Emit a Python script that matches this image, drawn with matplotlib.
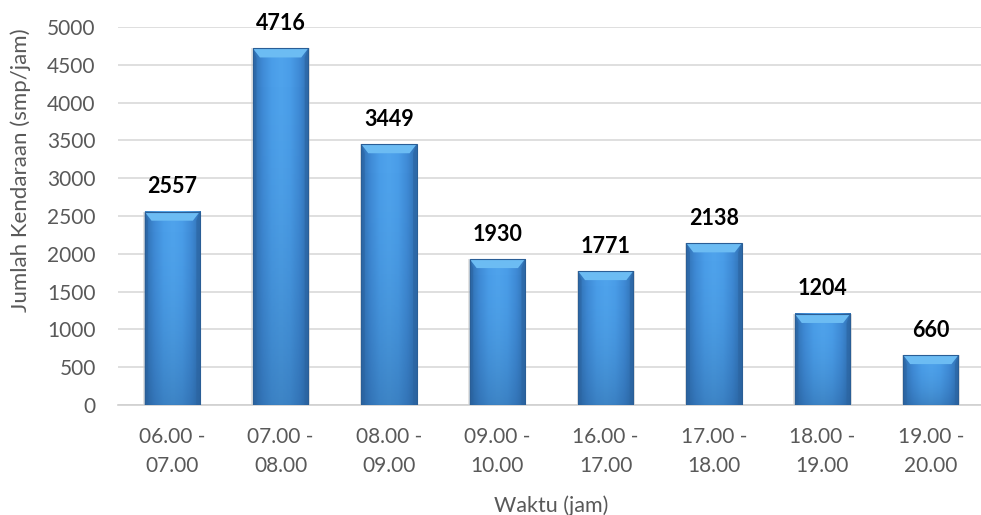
import matplotlib
matplotlib.use("Agg")
import matplotlib.pyplot as plt
import numpy as np
from matplotlib.patches import Polygon
from matplotlib.colors import LinearSegmentedColormap

categories = ["06.00 -\n07.00", "07.00 -\n08.00", "08.00 -\n09.00", "09.00 -\n10.00",
              "16.00 -\n17.00", "17.00 -\n18.00", "18.00 -\n19.00", "19.00 -\n20.00"]
values = [2557, 4716, 3449, 1930, 1771, 2138, 1204, 660]
yticks = [0, 500, 1000, 1500, 2000, 2500, 3000, 3500, 4000, 4500, 5000]

plt.rcParams['font.family'] = ['Lato', 'DejaVu Sans']

fig = plt.figure(figsize=(9.81, 5.15), dpi=100)
W, H = 981, 515
ax = fig.add_axes([118 / W, (H - 405) / H, (985 - 118) / W, (405 - 27) / H])

x = np.arange(len(values))
bw = 0.51
ax.set_xlim(-0.5, len(values) - 0.5)
ax.set_ylim(0, 5000)

cmap = LinearSegmentedColormap.from_list(
    "bar", ["#2f6fb0", "#3f8ad6", "#4a9de8", "#4fa3ec", "#4a9de8", "#3f8ad6", "#2f6fb0"])
grad = np.linspace(0, 1, 200).reshape(1, -1)
vgrad = np.linspace(0, 1, 100).reshape(-1, 1)

px_y = 5000 / 378.0
px_x = 1.0 / 108.4
bevel_h = 9 * px_y
bevel_w = 7 * px_x

for xi, v in zip(x, values):
    l, r = xi - bw / 2, xi + bw / 2
    ax.add_patch(plt.Rectangle((l - 1.5 * px_x, -2 * px_y), bw + 3 * px_x, v + 2 * px_y,
                               facecolor="#c8c8c8", edgecolor="none", alpha=0.5, zorder=2))
    ax.imshow(grad, cmap=cmap, extent=[l, r, 0, v], aspect="auto", zorder=3,
              interpolation="bicubic")
    dark = np.zeros((100, 1, 4))
    dark[..., 0:3] = np.array([0.12, 0.30, 0.50])
    dark[..., 3] = (1 - vgrad) ** 2 * 0.35
    ax.imshow(dark[::-1], extent=[l, r, 0, v], aspect="auto", zorder=3.5,
              interpolation="bilinear")
    ax.add_patch(Polygon([[l, v], [r, v], [r - bevel_w, v - bevel_h], [l + bevel_w, v - bevel_h]],
                         closed=True, facecolor="#6cbcf3", edgecolor="none", zorder=4))
    ax.add_patch(Polygon([[l, v], [l + bevel_w * 0.5, v - bevel_h], [l + bevel_w * 0.5, 0], [l, 0]],
                         closed=True, facecolor="#2c64a0", edgecolor="none", alpha=0.6, zorder=4))
    ax.add_patch(Polygon([[r, v], [r - bevel_w * 0.5, v - bevel_h], [r - bevel_w * 0.5, 0], [r, 0]],
                         closed=True, facecolor="#2c64a0", edgecolor="none", alpha=0.6, zorder=4))
    ax.add_patch(plt.Rectangle((l, 0), bw, v, facecolor="none", edgecolor="#2a5e96",
                               linewidth=0.8, zorder=5))
    ax.text(xi, v + 25 * px_y, f"{v}", ha="center", va="center", fontsize=15.5,
            fontweight="bold", color="black", zorder=6)

ax.set_yticks(yticks)
ax.set_xticks(x)
ax.set_xticklabels(categories, linespacing=1.55)
ax.tick_params(axis="both", length=0, labelsize=15, labelcolor="#595959")
ax.tick_params(axis="y", pad=16)
ax.tick_params(axis="x", pad=16)
ax.grid(axis="y", color="#d9d9d9", linewidth=1.2, zorder=0)
ax.set_axisbelow(True)
for s in ["top", "right", "left"]:
    ax.spines[s].set_visible(False)
ax.spines["bottom"].set_color("#d0d0d0")
ax.spines["bottom"].set_linewidth(1.2)

ax.set_xlabel("Waktu (jam)", fontsize=15.5, color="#595959", labelpad=14)
yl = ax.set_ylabel("Jumlah Kendaraan (smp/jam)", fontsize=15, color="#595959", va="center")
ax.yaxis.set_label_coords((21 - 118) / 867, (405 - 170) / 378)

# scale the y label so its length matches the reference (~284 px)
fig.canvas.draw()
ext = yl.get_window_extent(fig.canvas.get_renderer())
yl.set_fontsize(15 * 284.0 / ext.height)

fig.savefig("out.png", dpi=100)
